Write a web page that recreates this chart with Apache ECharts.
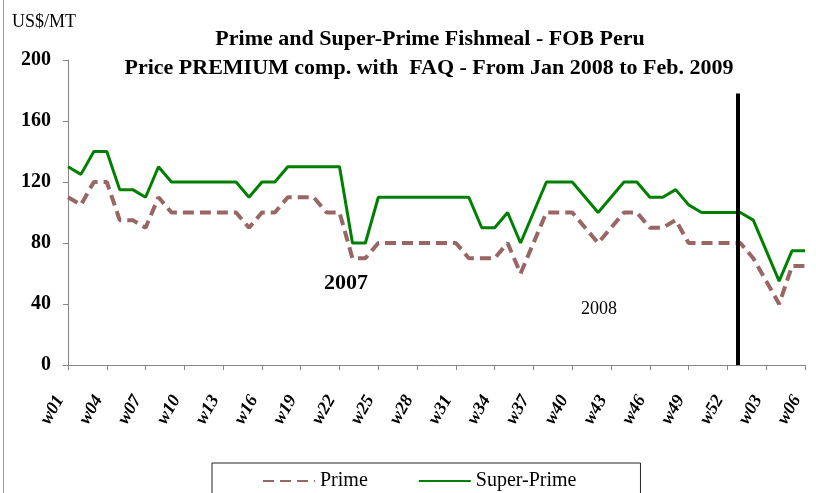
<!DOCTYPE html>
<html>
<head>
<meta charset="utf-8">
<script src="https://cdn.jsdelivr.net/npm/echarts@6/dist/echarts.min.js"></script>
<style>
  html, body { margin: 0; padding: 0; background: #fff; }
  #chart { width: 816px; height: 493px; }
</style>
</head>
<body>
<div id="chart"></div>
<script>
// weeks of 2008 (w01..w52) followed by the first weeks of 2009
const weeks2008 = Array.from({ length: 52 }, (_, i) => 'w' + String(i + 1).padStart(2, '0'));
const weeks2009 = ['w01', 'w02', 'w03', 'w04', 'w05', 'w06'];
const categories = weeks2008.concat(weeks2009);

const primeValues = [
  110, 105, 120, 120, 95, 95, 90, 110, 100, 100,
  100, 100, 100, 100, 90, 100, 100, 110, 110, 110,
  100, 100, 70, 70, 80, 80, 80, 80, 80, 80,
  80, 70, 70, 70, 80, 60, 80, 100, 100, 100,
  90, 80, 90, 100, 100, 90, 90, 95, 80, 80,
  80, 80, 80, 70, 55, 40, 65, 65
];

const superPrimeValues = [
  130, 125, 140, 140, 115, 115, 110, 130, 120, 120,
  120, 120, 120, 120, 110, 120, 120, 130, 130, 130,
  130, 130, 80, 80, 110, 110, 110, 110, 110, 110,
  110, 110, 90, 90, 100, 80, 100, 120, 120, 120,
  110, 100, 110, 120, 120, 110, 110, 115, 105, 100,
  100, 100, 100, 95, 75, 55, 75, 75
];

// year-end divider (position on the week index scale, height in US$/MT)
const dividerAt = 51.8;
const dividerTop = 178;

const serif = '"Liberation Serif", "Times New Roman", serif';
const axisGrey = '#868686';

const chart = echarts.init(document.getElementById('chart'));

chart.setOption({
  animation: false,
  backgroundColor: '#fff',
  title: [
    {
      text: 'Prime and Super-Prime Fishmeal - FOB Peru',
      left: 425,
      top: 23,
      textAlign: 'center',
      textStyle: { fontFamily: serif, fontSize: 22, fontWeight: 'bold', color: '#000' },
    },
    {
      text: 'Price PREMIUM comp. with  FAQ - From Jan 2008 to Feb. 2009',
      left: 424,
      top: 52,
      textAlign: 'center',
      textStyle: { fontFamily: serif, fontSize: 22, fontWeight: 'bold', color: '#000' },
    },
  ],
  legend: {
    data: ['Prime', 'Super-Prime'],
    left: 212,
    top: 463,
    orient: 'horizontal',
    padding: [8, 64, 8, 50],
    itemGap: 50,
    itemWidth: 52,
    itemHeight: 14,
    itemStyle: { opacity: 0 },
    borderColor: '#222',
    borderWidth: 1,
    textStyle: { fontFamily: serif, fontSize: 20, color: '#000' },
  },
  grid: { left: 68, right: 11, top: 60, bottom: 128, containLabel: false },
  xAxis: [
    {
      type: 'category',
      data: categories,
      boundaryGap: false,
      axisLine: { lineStyle: { color: axisGrey, width: 1 } },
      axisTick: { interval: 2, length: 5, lineStyle: { color: axisGrey } },
      axisLabel: {
        interval: 2,
        rotate: 60,
        margin: 18,
        padding: [0, 16, 0, 0],
        fontFamily: serif,
        fontSize: 18,
        fontWeight: 'bold',
        fontStyle: 'italic',
        color: '#000',
      },
      splitLine: { show: false },
    },
    {
      type: 'value',
      min: 0,
      max: categories.length - 1,
      show: false,
    },
  ],
  yAxis: {
    type: 'value',
    min: 0,
    max: 200,
    interval: 40,
    axisLine: { show: true, lineStyle: { color: axisGrey, width: 1 } },
    axisTick: { show: true, length: 5, lineStyle: { color: axisGrey } },
    axisLabel: { margin: 17, fontFamily: serif, fontSize: 20, fontWeight: 'bold', color: '#000' },
    splitLine: { show: false },
  },
  series: [
    {
      name: 'Prime',
      type: 'line',
      data: primeValues,
      symbol: 'none',
      lineStyle: { color: '#996666', width: 4, type: [11, 6] },
      itemStyle: { color: '#996666' },
      z: 2,
    },
    {
      name: 'Super-Prime',
      type: 'line',
      data: superPrimeValues,
      symbol: 'none',
      lineStyle: { color: '#008000', width: 3 },
      itemStyle: { color: '#008000' },
      z: 3,
    },
    {
      name: 'divider',
      type: 'line',
      xAxisIndex: 1,
      data: [],
      symbol: 'none',
      markLine: {
        silent: true,
        symbol: 'none',
        label: { show: false },
        lineStyle: { color: '#000', width: 4, type: 'solid' },
        data: [[{ coord: [dividerAt, 0] }, { coord: [dividerAt, dividerTop] }]],
      },
      z: 4,
    },
  ],
  graphic: [
    {
      type: 'line',
      shape: { x1: 3.5, y1: 0, x2: 3.5, y2: 493 },
      style: { stroke: '#999', lineWidth: 1 },
    },
    {
      type: 'text',
      left: 12,
      top: 13,
      style: { text: 'US$/MT', fontFamily: serif, fontSize: 18, fill: '#000' },
    },
    {
      type: 'text',
      x: 346,
      y: 283,
      style: { text: '2007', fontFamily: serif, fontSize: 22, fontWeight: 'bold', fill: '#000', align: 'center', verticalAlign: 'middle' },
    },
    {
      type: 'text',
      x: 599,
      y: 309,
      style: { text: '2008', fontFamily: serif, fontSize: 18, fill: '#000', align: 'center', verticalAlign: 'middle' },
    },
  ],
});
</script>
</body>
</html>
